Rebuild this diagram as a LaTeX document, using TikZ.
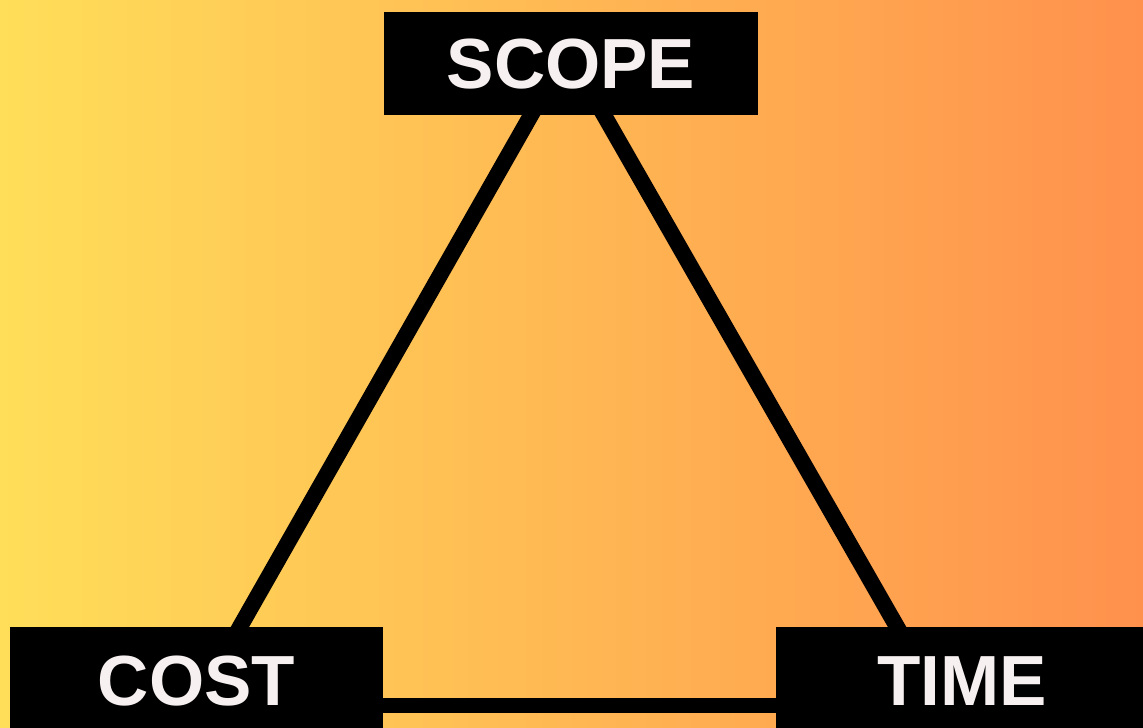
\documentclass[tikz,border=0pt]{standalone}
\usepackage{fontspec}
\setmainfont{Liberation Sans}
\usetikzlibrary{backgrounds}
\definecolor{bgleft}{HTML}{FFDE59}
\definecolor{bgright}{HTML}{FF914D}
\definecolor{labeltext}{HTML}{F7F0F0}
\tikzset{
  labelbox/.style={fill=black, text=labeltext, inner sep=0pt,
    font=\fontsize{71}{71}\selectfont\bfseries,
    text height=50.8pt, text depth=0pt},
  edge/.style={draw=black, line width=16pt, shorten <=-12pt, shorten >=-12pt}
}
\begin{document}
\begin{tikzpicture}[x=1pt,y=-1pt]
\useasboundingbox (0,0) rectangle (1143,728);
\node[labelbox, minimum width=374pt, minimum height=103pt] (scope) at (571,63.5) {SCOPE};
\node[labelbox, minimum width=373pt, minimum height=106pt] (cost) at (196.5,680) {COST};
\node[labelbox, minimum width=372pt, minimum height=106pt] (time) at (962,680) {TIME};
\begin{scope}[on background layer]
  \shade[left color=bgleft, right color=bgright] (0,0) rectangle (1143,728);
  \draw[edge] ([xshift=-40pt]scope.south) -- ([xshift=43.5pt]cost.north);
  \draw[edge] ([xshift=33pt]scope.south) -- ([xshift=-65pt]time.north);
  \draw[edge,line width=15pt] ([yshift=-25.5pt]cost.east) -- ([yshift=-25.5pt]time.west);
\end{scope}
\end{tikzpicture}
\end{document}
